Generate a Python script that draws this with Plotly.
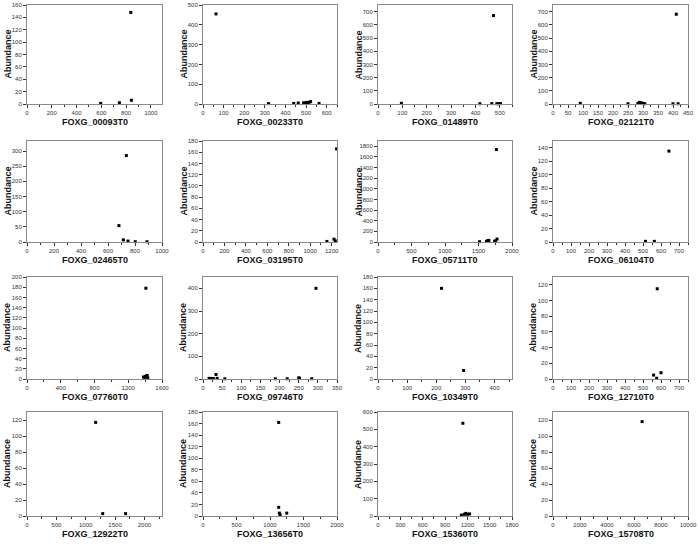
import plotly.graph_objects as go

W, H = 699, 544

names = ["FOXG_00093T0", "FOXG_00233T0", "FOXG_01489T0", "FOXG_02121T0",
         "FOXG_02465T0", "FOXG_03195T0", "FOXG_05711T0", "FOXG_06104T0",
         "FOXG_07760T0", "FOXG_09746T0", "FOXG_10349T0", "FOXG_12710T0",
         "FOXG_12922T0", "FOXG_13656T0", "FOXG_15360T0", "FOXG_15708T0"]
y_title = "Abundance"

x00093 = [595, 746, 838, 843]
y00093 = [1, 2, 148, 6]
x00233 = [63, 318, 440, 462, 488, 495, 502, 508, 515, 522, 563]
y00233 = [455, 2, 3, 5, 6, 4, 8, 5, 9, 12, 3]
x01489 = [96, 418, 467, 474, 488, 495, 503]
y01489 = [5, 2, 3, 670, 3, 2, 3]
x02121 = [91, 250, 283, 288, 293, 298, 302, 306, 400, 411, 417]
y02121 = [5, 2, 4, 12, 8, 6, 3, 2, 2, 680, 2]
x02465 = [681, 714, 736, 748, 802, 889]
y02465 = [54, 7, 285, 3, 1, 1]
x03195 = [1156, 1222, 1234, 1246]
y03195 = [1, 5, 2, 166]
x05711 = [1515, 1620, 1635, 1645, 1655, 1740, 1755, 1767, 1777]
y05711 = [5, 10, 25, 15, 30, 15, 20, 1740, 55]
x06104 = [514, 563, 644]
y06104 = [1, 1, 135]
x07760 = [1380, 1395, 1405, 1409, 1415, 1425, 1432]
y07760 = [4, 3, 5, 178, 6, 7, 2]
x09746 = [16, 20, 27, 34, 37, 57, 189, 220, 250, 252, 284, 295]
y09746 = [3, 2, 2, 20, 3, 1, 1, 1, 5, 3, 1, 400]
x10349 = [218, 294]
y10349 = [160, 15]
x12710 = [559, 576, 579, 600]
y12710 = [5, 1, 115, 8]
x12922 = [1170, 1290, 1680]
y12922 = [117, 3, 3]
x13656 = [1130, 1130, 1140, 1150, 1250]
y13656 = [162, 15, 5, 2, 5]
x15360 = [1120, 1140, 1160, 1180, 1200, 1230]
y15360 = [5, 535, 10, 15, 10, 12]
x15708 = [6600]
y15708 = [118]

xs = [x00093, x00233, x01489, x02121, x02465, x03195, x05711, x06104,
      x07760, x09746, x10349, x12710, x12922, x13656, x15360, x15708]
ys = [y00093, y00233, y01489, y02121, y02465, y03195, y05711, y06104,
      y07760, y09746, y10349, y12710, y12922, y13656, y15360, y15708]

x_ranges = [1090, 650, 550, 450, 1000, 1250, 2000, 750, 1600, 350, 460, 750, 2300, 2000, 1800, 10000]
x_dticks = [200, 100, 100, 50, 200, 200, 500, 100, 400, 50, 100, 100, 500, 500, 300, 2000]
y_ranges = [160, 500, 750, 750, 333, 180, 1900, 150, 200, 450, 180, 130, 130, 180, 600, 130]
y_dticks = [20, 100, 100, 100, 50, 20, 200, 20, 20, 100, 20, 20, 20, 20, 100, 20]

col_left = [27, 203, 378, 553]
col_right = [162, 337, 512, 688]
row_top = [5, 141, 277, 412]
row_bot = [104, 242, 379, 516]

fig = go.Figure()
layout = dict(width=W, height=H, margin=dict(l=0, r=0, t=0, b=0),
              paper_bgcolor="white", plot_bgcolor="white", showlegend=False,
              font=dict(family="Liberation Sans, Arial, sans-serif", color="#222"))
annotations = []

for i in range(16):
    r, c = divmod(i, 4)
    k = "" if i == 0 else str(i + 1)
    fig.add_trace(go.Scatter(x=xs[i], y=ys[i], mode="markers",
                             marker=dict(symbol="square", size=3, color="black"),
                             xaxis="x" + k, yaxis="y" + k, cliponaxis=False))
    common = dict(showgrid=False, zeroline=False, showline=True, mirror=True,
                  linecolor="#8a8a8a", linewidth=1, ticks="outside", ticklen=3,
                  tickcolor="#333", tickwidth=1, tickfont=dict(size=6, color="#333"),
                  automargin=False, tickformat="d", tick0=0)
    layout["xaxis" + k] = dict(common, domain=[col_left[c] / W, col_right[c] / W],
                               anchor="y" + k, range=[0, x_ranges[i]], dtick=x_dticks[i],
                               minor=dict(ticks="outside", ticklen=2, tickcolor="#333",
                                          dtick=x_dticks[i] / 2, showgrid=False))
    layout["yaxis" + k] = dict(common, domain=[1 - row_bot[r] / H, 1 - row_top[r] / H],
                               anchor="x" + k, range=[0, y_ranges[i]], dtick=y_dticks[i])
    annotations.append(dict(text="<b>" + names[i] + "</b>", xref="paper", yref="paper",
                            x=(col_left[c] + col_right[c]) / 2 / W,
                            y=1 - (row_bot[r] + 18) / H, showarrow=False,
                            xanchor="center", yanchor="middle",
                            font=dict(size=9, color="#111")))
    annotations.append(dict(text="<b>" + y_title + "</b>", xref="paper", yref="paper",
                            x=(col_left[c] - 20) / W,
                            y=1 - (row_top[r] + row_bot[r]) / 2 / H, showarrow=False,
                            textangle=-90, xanchor="center", yanchor="middle",
                            font=dict(size=9, color="#111")))

layout["annotations"] = annotations
fig.update_layout(**layout)
fig.write_html("out.html", config={"displayModeBar": False},
               post_script="document.body.style.margin='0px';document.body.style.overflow='hidden';")
